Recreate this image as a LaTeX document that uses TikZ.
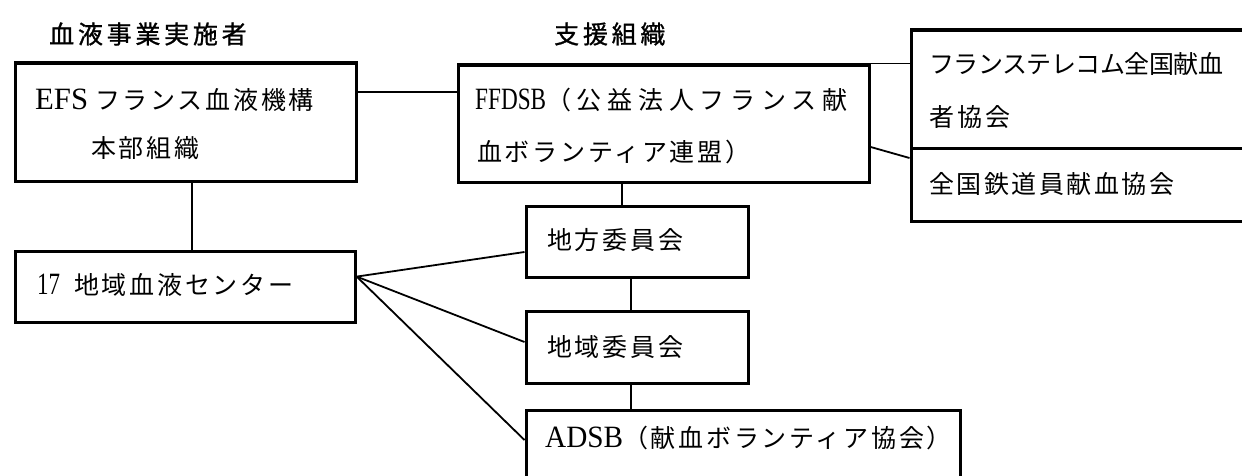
\documentclass[tikz,border=0pt]{standalone}
\usepackage{graphicx}
\usepackage{fontspec}
\setmainfont{Liberation Serif}
\newfontfamily\cjk{Noto Sans CJK JP}
\newcommand\jtxt[2][11]{{\cjk\addfontfeatures{LetterSpace=#1}#2}}
\newcommand\jbold[2][15]{{\cjk\addfontfeatures{LetterSpace=#1,FakeBold=1}#2}}
\newcommand\ltxt[2]{\resizebox{#1pt}{\height}{\fontsize{31}{34}\selectfont #2}}
\tikzset{
  box/.style={draw, line width=3.2pt, inner sep=0pt, anchor=north west},
  conn/.style={draw, line width=1.8pt},
  txt/.style={inner sep=0pt, anchor=west, font=\fontsize{25}{30}\selectfont},
}
\begin{document}
\begin{tikzpicture}[x=1pt,y=-1pt]
\useasboundingbox (0,0) rectangle (1242,476);
\begin{scope}
\clip (0,0) rectangle (1242,476);
% boxes
\node[box, minimum width=341pt, minimum height=118pt] (efs) at (13.5,61.5) {};
\node[box, minimum width=411pt, minimum height=117pt] (ffdsb) at (456.5,63.5) {};
\node[box, minimum width=400pt, minimum height=118.5pt] (telecom) at (909.5,28.5) {};
\node[box, minimum width=400pt, minimum height=72.5pt] (rail) at (909.5,147) {};
\node[box, minimum width=340pt, minimum height=71pt] (c17) at (13.5,249.5) {};
\node[box, minimum width=222pt, minimum height=71pt] (chiho) at (524.5,204.5) {};
\node[box, minimum width=222pt, minimum height=72pt] (chiiki) at (524.5,309.5) {};
\node[box, minimum width=434pt, minimum height=100pt] (adsb) at (524.5,408.5) {};
% connectors
\draw[conn] ([yshift=-30.5pt]efs.north east) -- ([yshift=-28.5pt]ffdsb.north west);
\draw[conn] ([xshift=6pt]efs.south) -- ([xshift=6pt]efs.south |- c17.north);
\draw[conn] (ffdsb.north east) -- (ffdsb.north east -| telecom.west);
\draw[conn] ([yshift=-83.5pt]ffdsb.north east) -- ([yshift=-11pt]rail.north west);
\draw[conn] ([xshift=-42pt]ffdsb.south) -- ([xshift=-42pt]ffdsb.south |- chiho.north);
\draw[conn] ([xshift=-6.5pt]chiho.south) -- ([xshift=-6.5pt]chiho.south |- chiiki.north);
\draw[conn] ([xshift=-6.5pt]chiiki.south) -- ([xshift=-6.5pt]chiiki.south |- adsb.north);
\draw[conn] ([yshift=10pt]c17.east) -- ([yshift=-47.5pt]chiho.north west);
\draw[conn] ([yshift=10pt]c17.east) -- ([yshift=-32.5pt]chiiki.north west);
\draw[conn] ([yshift=10pt]c17.east) -- ([yshift=-31.5pt]adsb.north west);
% texts
\node[txt] (t1) at (49,34) {\jbold{血液事業実施者}};
\node[txt] (t2) at (554,34) {\jbold{支援組織}};
\node[txt] (efs1) at (35,100) {\ltxt{53}{EFS}\hspace{7pt}\jtxt{フランス血液機構}};
\node[txt] (efs2) at (91,148) {\jtxt{本部組織}};
\node[txt] (ff1) at (475,100) {\ltxt{71}{FFDSB}\jtxt[23]{（公益法人フランス献}};
\node[txt] (ff2) at (477,152) {\jtxt{血ボランティア連盟）}};
\node[txt] (tel1) at (929,64) {\jtxt[-2]{フランステレコム全国献血}};
\node[txt] (tel2) at (929,117) {\jtxt[12]{者協会}};
\node[txt] (rail1) at (929,184) {\jtxt[10]{全国鉄道員献血協会}};
\node[txt] (c171) at (37,285) {\ltxt{23}{17}\hspace{14pt}\jtxt{地域血液センター}};
\node[txt] (chiho1) at (547,240) {\jtxt{地方委員会}};
\node[txt] (chiiki1) at (547,347) {\jtxt{地域委員会}};
\node[txt] (adsb1) at (545,438) {\ltxt{78}{ADSB}\jtxt{（献血ボランティア協会）}};
\end{scope}
\end{tikzpicture}
\end{document}
